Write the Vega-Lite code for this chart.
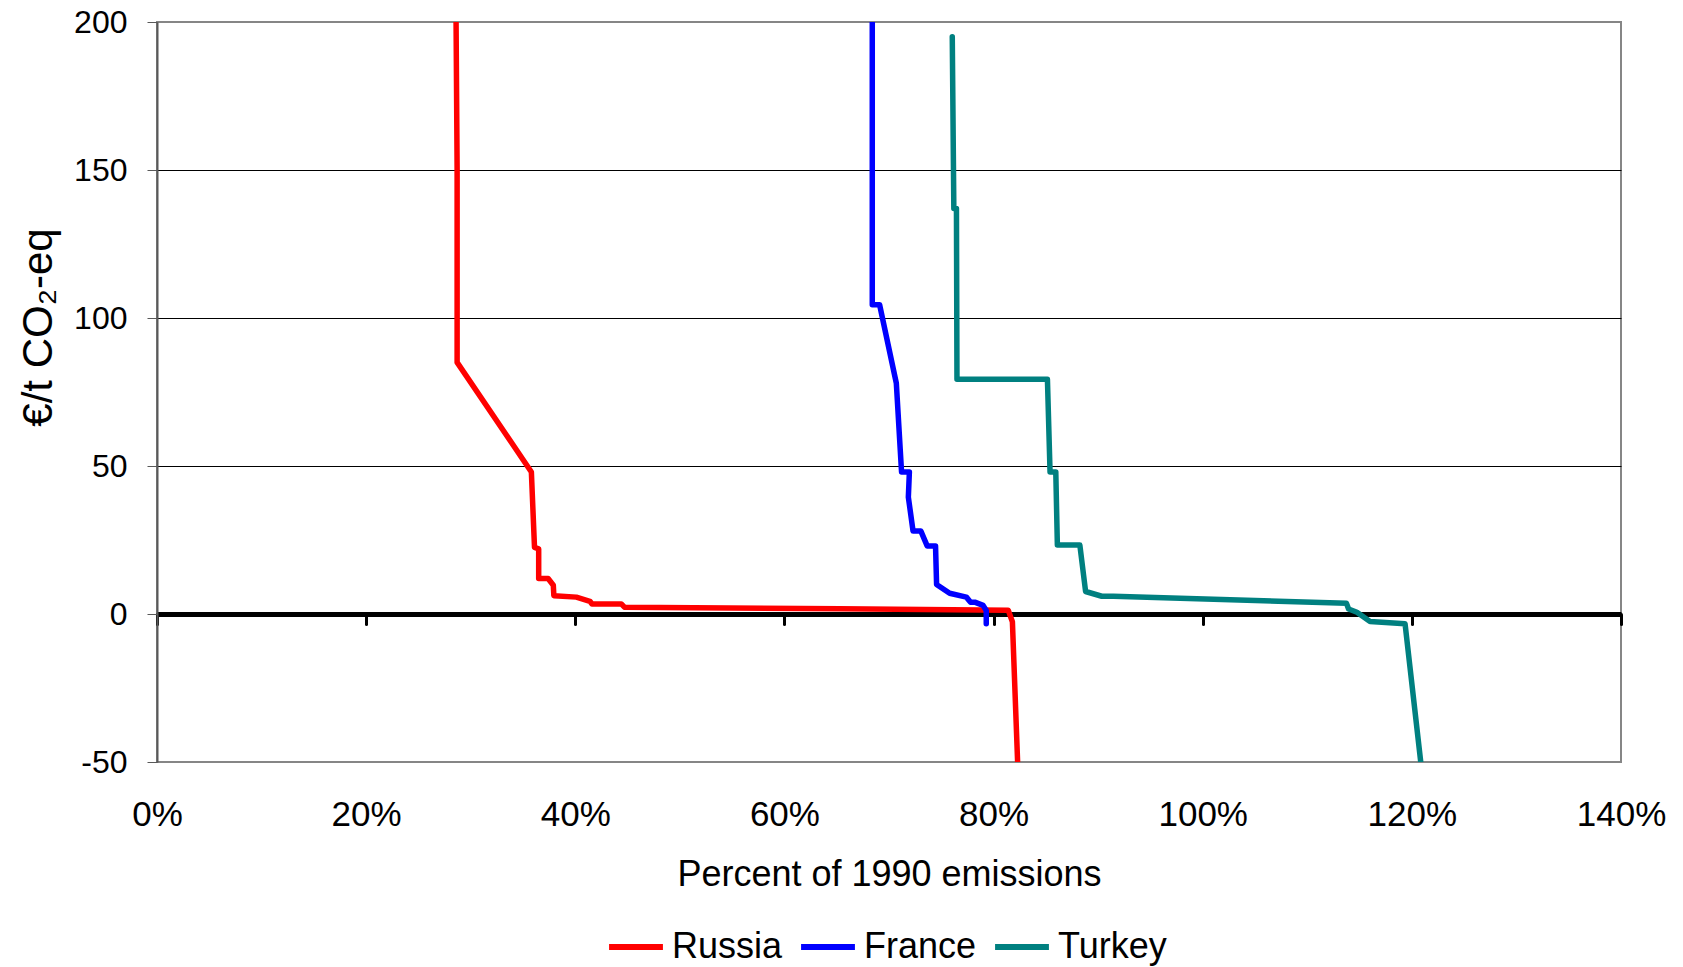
{
  "$schema": "https://vega.github.io/schema/vega-lite/v6.json",
  "width": 1464,
  "height": 740,
  "autosize": {"type": "none"},
  "padding": {"left": 157, "top": 22, "right": 62, "bottom": 205},
  "background": "white",
  "config": {
    "font": "Liberation Sans",
    "view": {"stroke": "#868686", "strokeWidth": 2}
  },
  "datasets": {
    "curves": [
      {"country": "Russia", "i": 1, "pct": 28.6, "cost": 200},
      {"country": "Russia", "i": 2, "pct": 28.7, "cost": 150},
      {"country": "Russia", "i": 3, "pct": 28.7, "cost": 85},
      {"country": "Russia", "i": 4, "pct": 35.8, "cost": 48},
      {"country": "Russia", "i": 5, "pct": 36.1, "cost": 22.5},
      {"country": "Russia", "i": 6, "pct": 36.5, "cost": 22},
      {"country": "Russia", "i": 7, "pct": 36.5, "cost": 12},
      {"country": "Russia", "i": 8, "pct": 37.4, "cost": 12},
      {"country": "Russia", "i": 9, "pct": 37.9, "cost": 9.7},
      {"country": "Russia", "i": 10, "pct": 37.95, "cost": 6.2},
      {"country": "Russia", "i": 11, "pct": 40.1, "cost": 5.7},
      {"country": "Russia", "i": 12, "pct": 41.4, "cost": 4.3},
      {"country": "Russia", "i": 13, "pct": 41.6, "cost": 3.4},
      {"country": "Russia", "i": 14, "pct": 44.4, "cost": 3.4},
      {"country": "Russia", "i": 15, "pct": 44.7, "cost": 2.3},
      {"country": "Russia", "i": 16, "pct": 65.3, "cost": 1.8},
      {"country": "Russia", "i": 17, "pct": 81.4, "cost": 1.3},
      {"country": "Russia", "i": 18, "pct": 81.8, "cost": -2.6},
      {"country": "Russia", "i": 19, "pct": 82.3, "cost": -50},
      {"country": "France", "i": 1, "pct": 68.4, "cost": 200},
      {"country": "France", "i": 2, "pct": 68.4, "cost": 104.5},
      {"country": "France", "i": 3, "pct": 69.1, "cost": 104.5},
      {"country": "France", "i": 4, "pct": 70.7, "cost": 78},
      {"country": "France", "i": 5, "pct": 71.2, "cost": 48},
      {"country": "France", "i": 6, "pct": 71.95, "cost": 48},
      {"country": "France", "i": 7, "pct": 71.85, "cost": 39.5},
      {"country": "France", "i": 8, "pct": 72.3, "cost": 28},
      {"country": "France", "i": 9, "pct": 73.05, "cost": 28},
      {"country": "France", "i": 10, "pct": 73.65, "cost": 23},
      {"country": "France", "i": 11, "pct": 74.45, "cost": 23},
      {"country": "France", "i": 12, "pct": 74.55, "cost": 10},
      {"country": "France", "i": 13, "pct": 75.8, "cost": 7},
      {"country": "France", "i": 14, "pct": 77.4, "cost": 5.7},
      {"country": "France", "i": 15, "pct": 77.8, "cost": 4},
      {"country": "France", "i": 16, "pct": 78.2, "cost": 4},
      {"country": "France", "i": 17, "pct": 79.0, "cost": 2.9},
      {"country": "France", "i": 18, "pct": 79.3, "cost": 1.2},
      {"country": "France", "i": 19, "pct": 79.3, "cost": -3.3},
      {"country": "Turkey", "i": 1, "pct": 76.05, "cost": 195},
      {"country": "Turkey", "i": 2, "pct": 76.2, "cost": 137},
      {"country": "Turkey", "i": 3, "pct": 76.45, "cost": 137},
      {"country": "Turkey", "i": 4, "pct": 76.5, "cost": 79.3},
      {"country": "Turkey", "i": 5, "pct": 85.15, "cost": 79.3},
      {"country": "Turkey", "i": 6, "pct": 85.4, "cost": 48},
      {"country": "Turkey", "i": 7, "pct": 85.95, "cost": 48},
      {"country": "Turkey", "i": 8, "pct": 86.1, "cost": 23.3},
      {"country": "Turkey", "i": 9, "pct": 88.25, "cost": 23.3},
      {"country": "Turkey", "i": 10, "pct": 88.8, "cost": 7.6},
      {"country": "Turkey", "i": 11, "pct": 90.35, "cost": 6},
      {"country": "Turkey", "i": 12, "pct": 91.45, "cost": 6},
      {"country": "Turkey", "i": 13, "pct": 113.75, "cost": 3.6},
      {"country": "Turkey", "i": 14, "pct": 113.95, "cost": 1.7},
      {"country": "Turkey", "i": 15, "pct": 114.75, "cost": 0.6},
      {"country": "Turkey", "i": 16, "pct": 116.0, "cost": -2.5},
      {"country": "Turkey", "i": 17, "pct": 119.35, "cost": -3.3},
      {"country": "Turkey", "i": 18, "pct": 120.85, "cost": -50}
    ]
  },
  "data": {"name": "curves"},
  "encoding": {
    "y": {
      "field": "cost",
      "type": "quantitative",
      "scale": {"domain": [-50, 200], "nice": false, "zero": false},
      "axis": {
        "values": [-50, 0, 50, 100, 150, 200],
        "labelExpr": "'' + datum.value",
        "labelFontSize": 32,
        "labelColor": "black",
        "labelPadding": 20,
        "tickSize": 10,
        "tickColor": "#595959",
        "tickWidth": 1,
        "domainColor": "#595959",
        "domainWidth": 2,
        "grid": true,
        "gridColor": {"condition": {"test": "datum.value === 200 || datum.value === -50", "value": "#868686"}, "value": "black"},
        "gridWidth": 1,
        "title": "€/t CO₂-eq",
        "titleFontSize": 42,
        "titleFontWeight": "normal",
        "titleColor": "black",
        "titleBaseline": "alphabetic",
        "titleAngle": -90,
        "titleAlign": "center",
        "titleX": -106,
        "titleY": 305
      }
    },
    "order": {"field": "i", "type": "quantitative"}
  },
  "layer": [
    {
      "mark": {"type": "line", "strokeWidth": 5.5, "strokeJoin": "round", "strokeCap": "round", "clip": true},
      "encoding": {
        "x": {
          "field": "pct",
          "type": "quantitative",
          "scale": {"domain": [0, 140], "nice": false, "zero": false},
          "axis": {
            "orient": "bottom",
            "values": [0, 20, 40, 60, 80, 100, 120, 140],
            "labelExpr": "datum.value + '%'",
            "labelFontSize": 35,
            "labelColor": "black",
            "labelBaseline": "alphabetic",
            "labelPadding": 63,
            "labelFlush": false,
            "labelOverlap": false,
            "domain": false,
            "ticks": false,
            "tickSize": 0,
            "grid": false,
            "title": "Percent of 1990 emissions",
            "titleFontSize": 36,
            "titleFontWeight": "normal",
            "titleColor": "black",
            "titleBaseline": "alphabetic",
            "titleY": 123
          }
        },
        "color": {
          "field": "country",
          "type": "nominal",
          "scale": {"domain": ["Russia", "France", "Turkey"], "range": ["#FF0000", "#0000FF", "#008080"]},
          "legend": {
            "orient": "none",
            "legendX": 449,
            "legendY": 895,
            "direction": "horizontal",
            "title": null,
            "symbolType": "stroke",
            "symbolSize": 2900,
            "symbolStrokeWidth": 6,
            "labelFontSize": 36,
            "labelColor": "black",
            "labelOffset": 6,
            "columnPadding": 6,
            "padding": 0
          }
        }
      }
    },
    {
      "mark": {"type": "line", "opacity": 0},
      "encoding": {
        "x": {
          "field": "pct",
          "type": "quantitative",
          "axis": {
            "orient": "bottom",
            "offset": -148,
            "values": [0, 20, 40, 60, 80, 100, 120, 140],
            "labels": false,
            "grid": false,
            "title": null,
            "domain": true,
            "domainColor": "black",
            "domainWidth": 5,
            "ticks": true,
            "tickColor": "black",
            "tickWidth": 3,
            "tickSize": 10,
            "tickCap": "round"
          }
        }
      }
    }
  ],
  "resolve": {"axis": {"x": "independent"}}
}
